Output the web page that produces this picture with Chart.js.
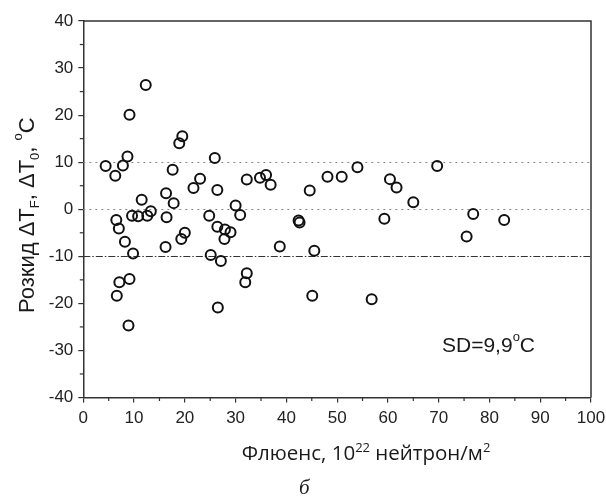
<!DOCTYPE html>
<html>
<head>
<meta charset="utf-8">
<script src="https://cdn.jsdelivr.net/npm/chart.js@4.4.1/dist/chart.umd.min.js"></script>
<style>
  html, body { margin: 0; padding: 0; background: #fff; }
  #wrap { width: 606px; height: 499px; position: relative; }
</style>
</head>
<body>
<div id="wrap"><canvas id="chart" width="606" height="499"></canvas></div>
<script>
// fluence (10^22 n/m^2) and spread of dT (degC)
const fluence = [4.4, 6.3, 7.8, 8.7, 9.1, 12.3, 6.5, 7.0, 8.2, 9.8, 9.6, 10.8, 11.5, 12.6, 13.3,
  6.6, 7.1, 9.1, 8.9, 16.3, 16.4, 17.8, 17.6, 18.9, 19.5, 21.7, 23.0, 25.9, 26.4, 24.8,
  26.4, 27.9, 27.8, 29.0, 30.0, 30.9, 19.3, 20.0, 16.2, 25.1, 27.1, 26.5, 32.2, 32.2, 31.9,
  34.8, 36.0, 36.9, 38.7, 42.4, 42.6, 44.6, 45.5, 45.1, 48.1, 50.9, 54.0, 56.8, 59.3,
  60.4, 61.7, 65.0, 69.7, 75.5, 76.8, 82.9];
const spread = [9.2, 7.1, 9.3, 11.2, 20.1, 26.4, -2.3, -4.1, -6.9, -9.4, -1.4, -1.5, 2.0, -1.4, -0.4,
  -18.4, -15.5, -14.8, -24.7, 3.4, -1.7, 1.3, 8.4, 14.0, 15.5, 4.5, 6.5, 10.9, 4.1, -1.4,
  -3.7, -4.3, -6.3, -4.9, 0.8, -1.2, -6.3, -5.0, -8.0, -9.7, -11.0, -20.9, 6.3, -13.6, -15.5,
  6.7, 7.3, 5.2, -7.9, -2.4, -2.8, 4.0, -8.8, -18.4, 6.9, 6.9, 8.9, -19.1, -2.0,
  6.4, 4.6, 1.5, 9.2, -5.8, -1.0, -2.3];
const xTicks = [0, 10, 20, 30, 40, 50, 60, 70, 80, 90, 100];
const yTicks = [-40, -30, -20, -10, 0, 10, 20, 30, 40];
const dottedLevels = [10, 0];
const dashDotLevels = [-10];

const axisColor = '#333';
const sansFont = '"Liberation Sans", Arial, sans-serif';

// draws text pieces with sub/superscripts, starting at (x, y) baseline
function drawRich(ctx, pieces, x, y) {
  let cx = x;
  pieces.forEach(p => {
    ctx.font = p.font;
    ctx.fillText(p.text, cx, y + (p.dy || 0));
    cx += ctx.measureText(p.text).width;
  });
  return cx - x;
}
function richWidth(ctx, pieces) {
  let w = 0;
  pieces.forEach(p => { ctx.font = p.font; w += ctx.measureText(p.text).width; });
  return w;
}

const decorations = {
  id: 'decorations',
  beforeDatasetsDraw(chart) {
    const { ctx, chartArea, scales } = chart;
    ctx.save();
    ctx.lineWidth = 1;
    dottedLevels.forEach(v => {
      const y = Math.round(scales.y.getPixelForValue(v)) + 0.5;
      ctx.strokeStyle = '#888';
      ctx.setLineDash([2, 4]);
      ctx.beginPath(); ctx.moveTo(chartArea.left, y); ctx.lineTo(chartArea.right, y); ctx.stroke();
    });
    dashDotLevels.forEach(v => {
      const y = Math.round(scales.y.getPixelForValue(v)) + 0.5;
      ctx.strokeStyle = '#333';
      ctx.setLineDash([7, 2, 1.5, 2]);
      ctx.beginPath(); ctx.moveTo(chartArea.left, y); ctx.lineTo(chartArea.right, y); ctx.stroke();
    });
    ctx.restore();
  },
  afterDraw(chart) {
    const { ctx, chartArea, scales } = chart;
    ctx.save();
    // top and right frame
    ctx.strokeStyle = axisColor;
    ctx.lineWidth = 1.5;
    ctx.beginPath();
    ctx.moveTo(chartArea.left, chartArea.top);
    ctx.lineTo(chartArea.right, chartArea.top);
    ctx.lineTo(chartArea.right, chartArea.bottom);
    ctx.stroke();
    // minor ticks at the halfway marks
    ctx.lineWidth = 1.2;
    for (let i = 0; i < xTicks.length - 1; i++) {
      const x = scales.x.getPixelForValue((xTicks[i] + xTicks[i + 1]) / 2);
      ctx.beginPath(); ctx.moveTo(x, chartArea.bottom); ctx.lineTo(x, chartArea.bottom + 3.5); ctx.stroke();
    }
    for (let i = 0; i < yTicks.length - 1; i++) {
      const y = scales.y.getPixelForValue((yTicks[i] + yTicks[i + 1]) / 2);
      ctx.beginPath(); ctx.moveTo(chartArea.left, y); ctx.lineTo(chartArea.left - 3.5, y); ctx.stroke();
    }

    ctx.fillStyle = '#1a1a1a';
    ctx.textBaseline = 'alphabetic';
    ctx.textAlign = 'left';

    // y title, rotated
    const yf = 22, ys = 13;
    const yPieces = [
      { text: 'Розкид ΔT', font: `${yf}px ${sansFont}` },
      { text: 'F', font: `${ys}px ${sansFont}`, dy: 5 },
      { text: ', ΔT', font: `${yf}px ${sansFont}` },
      { text: '0', font: `${ys}px ${sansFont}`, dy: 5 },
      { text: ', ', font: `${yf}px ${sansFont}` },
      { text: 'o', font: `${ys}px ${sansFont}`, dy: -12 },
      { text: 'C', font: `${yf}px ${sansFont}` }
    ];
    ctx.save();
    ctx.translate(34, 313);
    ctx.rotate(-Math.PI / 2);
    drawRich(ctx, yPieces, 0, 0);
    ctx.restore();

    // x title
    const xf = 20.5, xs = 13;
    const xFont = '"Open Sans", "Noto Sans", sans-serif';
    const xPieces = [
      { text: 'Флюенс, 10', font: `${xf}px ${xFont}` },
      { text: '22', font: `${xs}px ${xFont}`, dy: -8 },
      { text: ' нейтрон/м', font: `${xf}px ${xFont}` },
      { text: '2', font: `${xs}px ${xFont}`, dy: -8 }
    ];
    const xw = richWidth(ctx, xPieces);
    drawRich(ctx, xPieces, 366 - xw / 2, 460);

    // panel letter
    ctx.font = `italic 21px "Liberation Serif", "DejaVu Serif", serif`;
    ctx.fillText('б', 299, 494);

    // SD annotation
    const sdPieces = [
      { text: 'SD=9,9', font: `21px ${sansFont}` },
      { text: 'o', font: `13px ${sansFont}`, dy: -11 },
      { text: 'C', font: `21px ${sansFont}` }
    ];
    drawRich(ctx, sdPieces, 442, 352);
    ctx.restore();
  }
};

new Chart(document.getElementById('chart'), {
  type: 'scatter',
  data: {
    datasets: [{
      data: fluence.map((x, i) => ({ x, y: spread[i] })),
      pointStyle: 'circle',
      pointRadius: 5,
      pointHoverRadius: 5,
      borderWidth: 2,
      borderColor: '#111',
      backgroundColor: 'rgba(0,0,0,0)'
    }]
  },
  options: {
    responsive: false,
    animation: false,
    devicePixelRatio: 1,
    layout: { padding: { top: 21, right: 15, left: 0, bottom: 0 } },
    plugins: { legend: { display: false }, tooltip: { enabled: false } },
    scales: {
      x: {
        type: 'linear',
        min: 0, max: 100,
        afterBuildTicks: s => { s.ticks = xTicks.map(v => ({ value: v })); },
        afterFit: s => { s.height = 101.5; s.paddingRight = 0; s.paddingLeft = 0; },
        grid: { drawOnChartArea: false, drawTicks: true, tickLength: 5, color: axisColor, lineWidth: 1.2 },
        border: { display: true, color: axisColor, width: 1.5 },
        ticks: { color: '#222', padding: 6, autoSkip: false, font: { family: sansFont, size: 17 }, maxRotation: 0 }
      },
      y: {
        type: 'linear',
        min: -40, max: 40,
        afterBuildTicks: s => { s.ticks = yTicks.map(v => ({ value: v })); },
        afterFit: s => { s.width = 83.3; s.paddingTop = 0; s.paddingBottom = 0; },
        grid: { drawOnChartArea: false, drawTicks: true, tickLength: 5, color: axisColor, lineWidth: 1.2 },
        border: { display: true, color: axisColor, width: 1.5 },
        ticks: { color: '#222', padding: 5, autoSkip: false, font: { family: sansFont, size: 17 } }
      }
    }
  },
  plugins: [decorations]
});
</script>
</body>
</html>
